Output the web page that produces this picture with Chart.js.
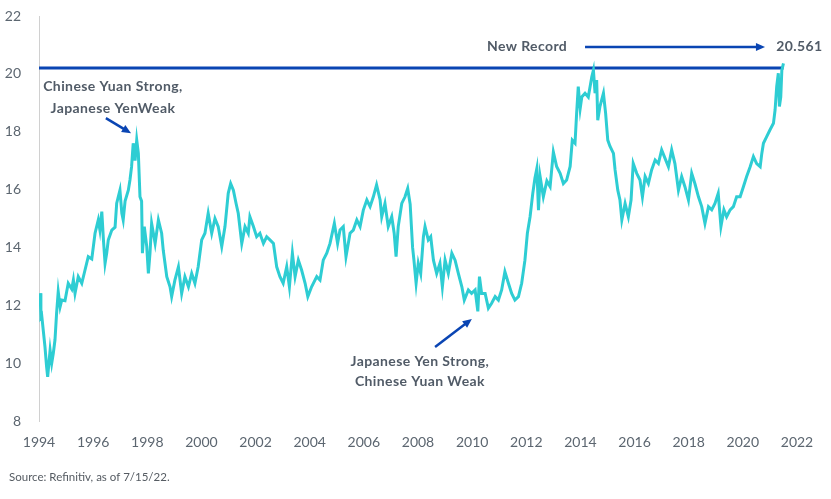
<!DOCTYPE html>
<html>
<head>
<meta charset="utf-8">
<script src="https://cdn.jsdelivr.net/npm/chart.js@4/dist/chart.umd.min.js"></script>
<style>
  body { margin: 0; background: #fff; }
</style>
</head>
<body>
<canvas id="chart" width="831" height="499"></canvas>
<script>
// CNY/JPY cross rate
const years = [
    1994.04, 1994.07, 1994.10, 1994.22, 1994.28, 1994.32, 1994.41, 1994.47, 1994.53, 1994.59,
    1994.65, 1994.71, 1994.78, 1994.84, 1994.96, 1995.08, 1995.21, 1995.27, 1995.33, 1995.45,
    1995.58, 1995.70, 1995.82, 1995.95, 1996.07, 1996.19, 1996.25, 1996.32, 1996.38, 1996.44,
    1996.50, 1996.56, 1996.69, 1996.81, 1996.87, 1996.99, 1997.06, 1997.11, 1997.18, 1997.30,
    1997.36, 1997.42, 1997.48, 1997.55, 1997.61, 1997.67, 1997.73, 1997.79, 1997.82, 1997.89,
    1997.98, 1998.04, 1998.10, 1998.16, 1998.29, 1998.41, 1998.53, 1998.59, 1998.72, 1998.84,
    1998.90, 1999.02, 1999.15, 1999.27, 1999.39, 1999.52, 1999.64, 1999.76, 1999.88, 2000.01,
    2000.13, 2000.25, 2000.38, 2000.50, 2000.62, 2000.75, 2000.87, 2000.99, 2001.08, 2001.18,
    2001.28, 2001.36, 2001.49, 2001.61, 2001.73, 2001.79, 2001.92, 2002.04, 2002.16, 2002.29,
    2002.41, 2002.53, 2002.66, 2002.78, 2002.90, 2003.02, 2003.15, 2003.25, 2003.36, 2003.46,
    2003.58, 2003.70, 2003.83, 2003.93, 2004.07, 2004.26, 2004.38, 2004.50, 2004.63, 2004.75,
    2004.91, 2005.03, 2005.12, 2005.24, 2005.34, 2005.49, 2005.61, 2005.74, 2005.86, 2005.98,
    2006.11, 2006.23, 2006.35, 2006.47, 2006.60, 2006.66, 2006.78, 2006.90, 2007.03, 2007.12,
    2007.19, 2007.27, 2007.40, 2007.52, 2007.62, 2007.71, 2007.80, 2007.85, 2007.93, 2008.01,
    2008.10, 2008.20, 2008.26, 2008.38, 2008.47, 2008.57, 2008.69, 2008.81, 2008.90, 2009.00,
    2009.12, 2009.25, 2009.37, 2009.49, 2009.62, 2009.71, 2009.86, 2009.98, 2010.11, 2010.21,
    2010.27, 2010.35, 2010.48, 2010.60, 2010.72, 2010.85, 2010.97, 2011.09, 2011.21, 2011.34,
    2011.46, 2011.58, 2011.71, 2011.83, 2011.95, 2012.04, 2012.14, 2012.24, 2012.32, 2012.39,
    2012.45, 2012.51, 2012.63, 2012.76, 2012.88, 2013.00, 2013.12, 2013.25, 2013.37, 2013.49,
    2013.62, 2013.70, 2013.80, 2013.86, 2013.92, 2013.99, 2014.05, 2014.17, 2014.29, 2014.42,
    2014.48, 2014.54, 2014.60, 2014.64, 2014.72, 2014.85, 2014.93, 2015.01, 2015.09, 2015.22,
    2015.28, 2015.38, 2015.46, 2015.53, 2015.65, 2015.77, 2015.87, 2015.95, 2016.08, 2016.20,
    2016.29, 2016.39, 2016.51, 2016.63, 2016.76, 2016.88, 2017.00, 2017.10, 2017.25, 2017.37,
    2017.49, 2017.62, 2017.74, 2017.86, 2017.99, 2018.11, 2018.23, 2018.36, 2018.48, 2018.60,
    2018.73, 2018.85, 2018.97, 2019.09, 2019.19, 2019.30, 2019.40, 2019.53, 2019.65, 2019.77,
    2019.90, 2020.02, 2020.14, 2020.27, 2020.39, 2020.51, 2020.64, 2020.70, 2020.76, 2020.88,
    2021.00, 2021.13, 2021.19, 2021.25, 2021.31, 2021.35, 2021.40, 2021.44, 2021.50
];
const rates = [
    12.42, 11.60, 11.65, 10.57, 9.88, 9.53, 10.45, 10.00, 10.35, 10.80,
    11.73, 12.47, 11.95, 12.18, 12.16, 12.76, 12.56, 12.87, 12.41, 12.99,
    12.76, 13.22, 13.68, 13.60, 14.49, 14.95, 14.60, 15.24, 14.26, 13.45,
    13.80, 14.26, 14.60, 14.70, 15.53, 15.98, 15.18, 14.95, 15.60, 15.98,
    16.33, 16.79, 17.60, 17.00, 17.71, 17.25, 15.75, 15.60, 13.80, 14.72,
    14.03, 13.10, 13.80, 14.83, 14.14, 14.95, 14.49, 13.90, 12.99, 12.64,
    12.30, 12.87, 13.33, 12.41, 12.99, 12.64, 13.10, 12.76, 13.33, 14.26,
    14.49, 15.18, 14.49, 15.00, 14.72, 14.03, 14.72, 15.87, 16.21, 15.98,
    15.52, 15.18, 14.14, 14.72, 14.49, 15.06, 14.72, 14.37, 14.49, 14.14,
    14.37, 14.26, 14.14, 13.33, 12.99, 12.76, 13.33, 12.64, 13.80, 12.99,
    13.56, 13.22, 12.76, 12.30, 12.64, 12.99, 12.87, 13.56, 13.80, 14.14,
    14.83, 14.14, 14.60, 14.72, 13.68, 14.49, 14.60, 14.95, 14.72, 15.29,
    15.64, 15.41, 15.75, 16.16, 15.64, 15.06, 15.52, 14.72, 15.06, 14.49,
    13.68, 14.72, 15.52, 15.75, 16.04, 15.50, 14.00, 13.56, 12.76, 13.45,
    13.10, 14.37, 14.72, 14.26, 14.37, 13.56, 13.10, 13.45, 12.64, 13.56,
    13.10, 13.80, 13.56, 13.10, 12.64, 12.18, 12.53, 12.41, 12.53, 11.79,
    12.99, 12.41, 12.41, 11.90, 12.07, 12.30, 12.18, 12.53, 13.16, 12.76,
    12.41, 12.18, 12.30, 12.76, 13.56, 14.49, 15.06, 15.87, 16.40, 16.73,
    15.29, 16.45, 15.75, 16.30, 16.10, 17.30, 16.80, 16.56, 16.21, 16.33,
    16.80, 17.71, 17.60, 18.64, 19.56, 18.80, 19.20, 19.33, 19.20, 19.90,
    20.13, 19.33, 19.79, 18.40, 18.87, 19.33, 18.64, 17.71, 17.50, 17.25,
    16.68, 15.98, 15.64, 14.95, 15.52, 15.06, 15.64, 16.90, 16.56, 16.33,
    15.75, 16.45, 16.21, 16.68, 17.02, 16.90, 17.37, 17.14, 16.79, 17.37,
    16.90, 15.98, 16.45, 16.10, 15.64, 16.56, 16.20, 15.75, 15.41, 14.83,
    15.41, 15.30, 15.52, 15.87, 14.72, 15.30, 15.06, 15.30, 15.41, 15.75,
    15.75, 16.10, 16.45, 16.79, 17.14, 16.90, 16.79, 17.25, 17.60, 17.83,
    18.06, 18.29, 18.75, 19.56, 20.02, 18.87, 19.20, 20.13, 20.36
];
const recordLevel = 20.2;
const recordValue = '20.561';
const yMin = 8, yMax = 22, yStep = 2;
const xMin = 1994, xMax = 2022, xStep = 2;
const sourceNote = 'Source: Refinitiv, as of 7/15/22.';

const TEXT_COLOR = '#515b67';
const ARROW_COLOR = '#0a45b3';

function drawArrow(ctx, x1, y1, x2, y2) {
    const angle = Math.atan2(y2 - y1, x2 - x1);
    const head = 10;
    ctx.save();
    ctx.strokeStyle = ARROW_COLOR;
    ctx.fillStyle = ARROW_COLOR;
    ctx.lineWidth = 2.5;
    ctx.beginPath();
    ctx.moveTo(x1, y1);
    ctx.lineTo(x2 - Math.cos(angle) * head * 0.8, y2 - Math.sin(angle) * head * 0.8);
    ctx.stroke();
    ctx.beginPath();
    ctx.moveTo(x2, y2);
    ctx.lineTo(x2 - head * Math.cos(angle - 0.42), y2 - head * Math.sin(angle - 0.42));
    ctx.lineTo(x2 - head * Math.cos(angle + 0.42), y2 - head * Math.sin(angle + 0.42));
    ctx.closePath();
    ctx.fill();
    ctx.restore();
}

const annotations = {
    id: 'annotations',
    afterDraw(chart) {
        const { ctx, scales: { x, y } } = chart;
        ctx.save();
        ctx.fillStyle = TEXT_COLOR;
        ctx.font = 'bold 14px Lato';
        ctx.letterSpacing = '0.4px';
        ctx.textAlign = 'center';
        ctx.textBaseline = 'middle';

        ctx.fillText('Chinese Yuan Strong,', x.getPixelForValue(1996.73), y.getPixelForValue(19.58));
        ctx.fillText('Japanese YenWeak', x.getPixelForValue(1996.73), y.getPixelForValue(18.82));
        drawArrow(ctx, x.getPixelForValue(1996.47), y.getPixelForValue(18.47),
            x.getPixelForValue(1997.40), y.getPixelForValue(17.95));

        ctx.fillText('Japanese Yen Strong,', x.getPixelForValue(2008.07), y.getPixelForValue(10.07));
        ctx.fillText('Chinese Yuan Weak', x.getPixelForValue(2008.07), y.getPixelForValue(9.35));
        drawArrow(ctx, x.getPixelForValue(2008.63), y.getPixelForValue(10.56),
            x.getPixelForValue(2009.99), y.getPixelForValue(11.53));

        ctx.fillText('New Record', x.getPixelForValue(2012.03), y.getPixelForValue(20.93));
        drawArrow(ctx, x.getPixelForValue(2014.17), y.getPixelForValue(20.93),
            x.getPixelForValue(2020.82), y.getPixelForValue(20.93));
        ctx.textAlign = 'left';
        ctx.fillText(recordValue, x.getPixelForValue(2021.23), y.getPixelForValue(20.93));

        ctx.font = '11.5px Lato';
        ctx.letterSpacing = '0px';
        ctx.fillStyle = '#555b62';
        ctx.textBaseline = 'alphabetic';
        ctx.fillText(sourceNote, 9, 481);
        ctx.restore();
    }
};

new Chart(document.getElementById('chart'), {
    type: 'line',
    data: {
        datasets: [
            {
                label: 'CNY/JPY',
                data: years.map((yr, i) => ({ x: yr, y: rates[i] })),
                borderColor: '#2ecdd3',
                borderWidth: 3,
                pointRadius: 0,
                tension: 0
            },
            {
                label: 'Record',
                data: [{ x: xMin, y: recordLevel }, { x: years[years.length - 1], y: recordLevel }],
                borderColor: '#0a45b3',
                borderWidth: 3,
                pointRadius: 0
            }
        ]
    },
    options: {
        responsive: false,
        animation: false,
        layout: { padding: { top: 16, right: 34, bottom: 38, left: 0 } },
        plugins: {
            legend: { display: false },
            tooltip: { enabled: false }
        },
        scales: {
            x: {
                type: 'linear',
                min: xMin,
                max: xMax,
                afterFit: scale => { scale.height = 40; },
                grid: { display: false, drawTicks: false },
                border: { display: false },
                ticks: {
                    stepSize: xStep,
                    padding: 13,
                    color: '#5c6670',
                    font: { family: 'Lato', size: 14 },
                    callback: v => String(v)
                }
            },
            y: {
                min: yMin,
                max: yMax,
                afterFit: scale => {
                    // tick padding is horizontal here, keep it out of the top/bottom room
                    scale.width = 39;
                    scale.paddingTop = 8;
                    scale.paddingBottom = 8;
                },
                grid: { display: false, drawTicks: false },
                border: { display: true, color: '#d0d0d0', width: 1 },
                ticks: {
                    stepSize: yStep,
                    padding: 18,
                    color: '#5c6670',
                    font: { family: 'Lato', size: 14 }
                }
            }
        }
    },
    plugins: [annotations]
});
</script>
</body>
</html>
